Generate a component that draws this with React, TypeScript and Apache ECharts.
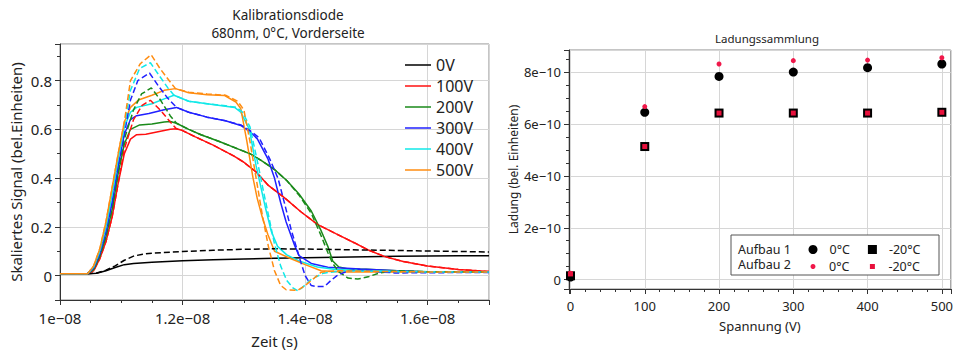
import React, { useEffect, useRef } from 'react';
import * as echarts from 'echarts';

// ---------- Left chart: time traces (time in ns, signal scaled) ----------
const voltageNames = ['0V', '100V', '200V', '300V', '400V', '500V'];
const voltageColors = ['#000000', '#ff1010', '#1a8a1a', '#2020ff', '#10e8e8', '#ff8c10'];

const trace0VSolid = [[10.0,0.008],[10.45,0.008],[10.6,0.01],[10.75,0.02],[10.9,0.033],[11.05,0.045],[11.2,0.05],[11.5,0.055],[12.0,0.061],[12.5,0.065],[13.0,0.068],[13.5,0.071],[14.0,0.073],[14.5,0.075],[15.0,0.077],[15.5,0.079],[16.0,0.08],[16.5,0.081],[17.0,0.082]];
const trace0VDashed = [[10.0,0.008],[10.45,0.008],[10.6,0.011],[10.75,0.022],[10.9,0.04],[11.05,0.063],[11.2,0.08],[11.35,0.088],[11.5,0.092],[12.0,0.099],[12.5,0.104],[13.0,0.108],[13.5,0.11],[14.0,0.109],[14.5,0.107],[15.0,0.105],[15.5,0.103],[16.0,0.101],[16.5,0.099],[17.0,0.097]];

const trace100VSolid = [[10.0,0.008],[10.45,0.008],[10.55,0.02],[10.65,0.07],[10.75,0.14],[10.85,0.24],[10.95,0.38],[11.05,0.5],[11.15,0.56],[11.25,0.578],[11.4,0.58],[11.6,0.59],[11.8,0.6],[11.9,0.602],[12.0,0.595],[12.2,0.57],[12.5,0.535],[12.84,0.49],[13.0,0.465],[13.2,0.425],[13.4,0.37],[13.66,0.32],[13.93,0.262],[14.2,0.21],[14.5,0.172],[14.8,0.135],[15.03,0.105],[15.3,0.078],[15.6,0.058],[16.0,0.039],[16.5,0.025],[17.0,0.017]];
const trace100VDashed = [[10.0,0.008],[10.45,0.008],[10.55,0.02],[10.65,0.07],[10.75,0.14],[10.85,0.24],[10.95,0.38],[11.05,0.52],[11.2,0.64],[11.34,0.698],[11.475,0.719],[11.64,0.678],[11.8,0.63],[11.9,0.602],[12.0,0.595],[12.2,0.57],[12.5,0.535],[12.84,0.49],[13.0,0.465],[13.2,0.425],[13.4,0.37],[13.66,0.32],[13.93,0.262],[14.2,0.21],[14.5,0.172],[14.8,0.135],[15.03,0.105],[15.3,0.078],[15.6,0.058],[16.0,0.039],[16.5,0.025],[17.0,0.017]];

const trace200VSolid = [[10.0,0.008],[10.45,0.008],[10.55,0.025],[10.65,0.08],[10.75,0.16],[10.85,0.27],[10.95,0.42],[11.05,0.54],[11.15,0.6],[11.3,0.618],[11.5,0.622],[11.7,0.63],[11.8,0.632],[11.9,0.625],[12.1,0.6],[12.3,0.578],[12.6,0.55],[12.9,0.52],[13.1,0.5],[13.3,0.47],[13.5,0.435],[13.7,0.39],[13.9,0.335],[14.1,0.265],[14.25,0.19],[14.37,0.12],[14.45,0.06],[14.55,0.035],[14.7,0.027],[15.0,0.026],[15.5,0.02],[16.0,0.016],[17.0,0.015]];
const trace200VDashed = [[10.0,0.008],[10.45,0.008],[10.55,0.025],[10.65,0.08],[10.75,0.16],[10.85,0.27],[10.95,0.42],[11.05,0.56],[11.2,0.68],[11.33,0.745],[11.49,0.77],[11.64,0.72],[11.8,0.655],[11.9,0.625],[12.1,0.6],[12.3,0.578],[12.6,0.55],[12.9,0.52],[13.1,0.5],[13.3,0.47],[13.5,0.435],[13.7,0.39],[13.9,0.33],[14.1,0.255],[14.25,0.17],[14.37,0.095],[14.45,0.05],[14.55,0.015],[14.7,-0.01],[14.86,-0.014],[15.03,-0.005],[15.2,0.01],[15.46,0.02],[16.0,0.016],[17.0,0.015]];

const trace300VSolid = [[10.0,0.008],[10.45,0.008],[10.55,0.03],[10.65,0.09],[10.75,0.18],[10.85,0.3],[10.95,0.45],[11.05,0.58],[11.15,0.64],[11.25,0.656],[11.45,0.665],[11.7,0.68],[11.9,0.69],[12.1,0.67],[12.4,0.65],[12.7,0.635],[12.95,0.616],[13.1,0.59],[13.22,0.561],[13.39,0.48],[13.5,0.4],[13.6,0.3],[13.69,0.22],[13.83,0.123],[13.9,0.082],[14.1,0.05],[14.37,0.034],[14.9,0.027],[15.5,0.02],[16.0,0.015],[17.0,0.014]];
const trace300VDashed = [[10.0,0.008],[10.45,0.008],[10.55,0.03],[10.65,0.09],[10.75,0.18],[10.85,0.3],[10.95,0.45],[11.05,0.58],[11.15,0.72],[11.27,0.8],[11.46,0.831],[11.6,0.78],[11.75,0.73],[11.9,0.69],[12.1,0.67],[12.4,0.65],[12.7,0.635],[12.95,0.618],[13.1,0.595],[13.25,0.565],[13.42,0.48],[13.56,0.397],[13.67,0.29],[13.77,0.19],[13.93,0.055],[14.0,0.0],[14.1,-0.041],[14.2,-0.045],[14.32,-0.044],[14.42,-0.02],[14.52,0.0],[14.7,0.02],[14.86,0.025],[15.1,0.018],[15.46,0.011],[16.0,0.012],[17.0,0.013]];

const trace400VSolid = [[10.0,0.008],[10.45,0.008],[10.55,0.035],[10.65,0.1],[10.75,0.2],[10.85,0.33],[10.95,0.48],[11.05,0.61],[11.15,0.67],[11.25,0.69],[11.5,0.705],[11.7,0.725],[11.86,0.74],[12.1,0.715],[12.4,0.705],[12.7,0.695],[12.85,0.69],[12.95,0.67],[13.09,0.6],[13.2,0.45],[13.28,0.36],[13.36,0.27],[13.45,0.18],[13.55,0.12],[13.7,0.085],[13.9,0.06],[14.2,0.035],[14.5,0.025],[15.0,0.02],[16.0,0.015],[17.0,0.015]];
const trace400VDashed = [[10.0,0.008],[10.45,0.008],[10.55,0.035],[10.65,0.1],[10.75,0.2],[10.85,0.33],[10.95,0.48],[11.05,0.61],[11.15,0.76],[11.3,0.85],[11.475,0.873],[11.62,0.82],[11.76,0.77],[11.86,0.74],[12.1,0.715],[12.4,0.705],[12.7,0.697],[12.88,0.69],[12.98,0.67],[13.1,0.61],[13.22,0.47],[13.3,0.37],[13.4,0.25],[13.5,0.13],[13.6,0.04],[13.7,-0.02],[13.8,-0.05],[13.88,-0.062],[13.95,-0.05],[14.1,-0.015],[14.3,0.01],[14.6,0.02],[15.0,0.018],[16.0,0.015],[17.0,0.015]];

const trace500VSolid = [[10.0,0.008],[10.45,0.008],[10.55,0.04],[10.65,0.11],[10.75,0.22],[10.85,0.36],[10.95,0.5],[11.05,0.63],[11.15,0.69],[11.28,0.72],[11.5,0.74],[11.7,0.76],[11.885,0.767],[12.1,0.75],[12.4,0.742],[12.68,0.739],[12.87,0.712],[12.95,0.685],[13.05,0.55],[13.15,0.4],[13.22,0.315],[13.3,0.24],[13.39,0.17],[13.5,0.1],[13.77,0.069],[14.0,0.045],[14.26,0.02],[14.6,0.015],[15.0,0.015],[16.0,0.015],[17.0,0.015]];
const trace500VDashed = [[10.0,0.008],[10.45,0.008],[10.55,0.04],[10.65,0.11],[10.75,0.22],[10.85,0.36],[10.95,0.5],[11.05,0.63],[11.15,0.8],[11.31,0.869],[11.487,0.906],[11.63,0.85],[11.78,0.8],[11.885,0.767],[12.1,0.752],[12.4,0.745],[12.7,0.74],[12.9,0.715],[13.0,0.68],[13.1,0.55],[13.2,0.4],[13.3,0.25],[13.4,0.12],[13.5,0.02],[13.6,-0.04],[13.69,-0.058],[13.88,-0.06],[14.0,-0.04],[14.15,-0.01],[14.26,0.014],[14.5,0.02],[15.0,0.018],[16.0,0.015],[17.0,0.015]];

const solidTraces = [trace0VSolid, trace100VSolid, trace200VSolid, trace300VSolid, trace400VSolid, trace500VSolid];
const dashedTraces = [trace0VDashed, trace100VDashed, trace200VDashed, trace300VDashed, trace400VDashed, trace500VDashed];

// ---------- Right chart: charge collection ----------
const voltages = [0, 100, 200, 300, 400, 500];
const aufbau1At0C = [0.1e-10, 6.45e-10, 7.83e-10, 8.0e-10, 8.17e-10, 8.31e-10];
const aufbau1AtMinus20C = [0.15e-10, 5.13e-10, 6.42e-10, 6.42e-10, 6.42e-10, 6.45e-10];
const aufbau2At0C = [0.25e-10, 6.67e-10, 8.31e-10, 8.44e-10, 8.46e-10, 8.55e-10];
const aufbau2AtMinus20C = [0.22e-10, 5.13e-10, 6.42e-10, 6.42e-10, 6.42e-10, 6.45e-10];

const FONT = 'Noto Sans';
const TXT = '#222222';

function fmtSci(v: number): string {
  if (Math.abs(v) < 1e-30) return '0';
  const e = Math.floor(Math.log10(Math.abs(v)) + 1e-9);
  const m = Math.round((v / Math.pow(10, e)) * 1000) / 1000;
  const es = e < 0 ? '\u2212' + String(-e).padStart(2, '0') : '+' + String(e).padStart(2, '0');
  return `${m}e${es}`;
}

function buildOption(): any {
  const lineSeries: any[] = [];
  solidTraces.forEach((tr, i) => {
    lineSeries.push({
      type: 'line', name: voltageNames[i], xAxisIndex: 0, yAxisIndex: 0,
      data: tr.map(([t, y]) => [t * 1e-9, y]),
      symbol: 'none', showSymbol: false, clip: true,
      lineStyle: { color: voltageColors[i], width: 1.5 },
      itemStyle: { color: voltageColors[i] },
    });
  });
  dashedTraces.forEach((tr, i) => {
    lineSeries.push({
      type: 'line', name: voltageNames[i], xAxisIndex: 0, yAxisIndex: 0,
      data: tr.map(([t, y]) => [t * 1e-9, y]),
      symbol: 'none', showSymbol: false, clip: true,
      lineStyle: { color: voltageColors[i], width: 1.5, type: [6, 3] },
      itemStyle: { color: voltageColors[i] },
    });
  });

  const scatter = (name: string, vals: number[], symbol: string, size: number, color: string, z: number) => ({
    type: 'scatter', name, xAxisIndex: 1, yAxisIndex: 1,
    data: voltages.map((v, i) => [v, vals[i]]),
    symbol, symbolSize: size, itemStyle: { color, opacity: 1 }, z,
  });

  const axisCommon = {
    axisLine: { show: true, onZero: false, lineStyle: { color: '#333333', width: 1 } },
    axisTick: { show: true, inside: false, length: 5, lineStyle: { color: '#333333' } },
    minorTick: { show: true, length: 3, lineStyle: { color: '#333333' } },
    splitLine: { show: true, lineStyle: { color: '#d6d6d6', width: 1 } },
  };

  return {
    animation: false,
    textStyle: { fontFamily: FONT },
    grid: [
      { left: 60, top: 44, width: 429, height: 259, show: true, borderColor: '#8a8a8a', borderWidth: 1, containLabel: false },
      { left: 569, top: 50, width: 385, height: 239, show: true, borderColor: '#8a8a8a', borderWidth: 1, containLabel: false },
    ],
    xAxis: [
      {
        ...axisCommon, type: 'value', gridIndex: 0, min: 1e-8, max: 1.7e-8, interval: 2e-9,
        minorTick: { ...axisCommon.minorTick, splitNumber: 4 },
        name: 'Zeit (s)', nameLocation: 'middle', nameGap: 33,
        nameTextStyle: { fontSize: 15, color: TXT, fontFamily: FONT },
        axisLabel: { fontSize: 15, color: TXT, margin: 10, formatter: fmtSci, showMaxLabel: false, fontFamily: FONT },
      },
      {
        ...axisCommon, type: 'value', gridIndex: 1, min: -2, max: 512, splitNumber: 5,
        minorTick: { ...axisCommon.minorTick, splitNumber: 5 },
        name: 'Spannung (V)', nameLocation: 'middle', nameGap: 30,
        nameTextStyle: { fontSize: 13, color: TXT, fontFamily: FONT },
        axisLabel: { fontSize: 13, color: TXT, margin: 10, showMinLabel: false, showMaxLabel: false, fontFamily: FONT },
      },
    ],
    yAxis: [
      {
        ...axisCommon, type: 'value', gridIndex: 0, min: -0.1, max: 0.95, splitNumber: 5,
        minorTick: { ...axisCommon.minorTick, splitNumber: 2 },
        name: 'Skaliertes Signal (bel.Einheiten)', nameLocation: 'middle', nameGap: 37,
        nameTextStyle: { fontSize: 15, color: TXT, fontFamily: FONT },
        axisLabel: { fontSize: 15, color: TXT, margin: 8, showMinLabel: false, showMaxLabel: false, fontFamily: FONT },
      },
      {
        ...axisCommon, type: 'value', gridIndex: 1, min: -0.36e-10, max: 8.85e-10, splitNumber: 5,
        minorTick: { ...axisCommon.minorTick, splitNumber: 4 },
        name: 'Ladung (bel. Einheiten)', nameLocation: 'middle', nameGap: 50,
        nameTextStyle: { fontSize: 12, color: TXT, fontFamily: FONT },
        axisLabel: { fontSize: 13, color: TXT, margin: 8, formatter: fmtSci, showMinLabel: false, showMaxLabel: false, fontFamily: FONT },
      },
    ],
    legend: [
      {
        data: voltageNames.map((n) => ({ name: n, icon: 'rect' })), orient: 'vertical', left: 405, top: 57, padding: 0,
        itemWidth: 26, itemHeight: 1.5, itemGap: 5,
        textStyle: { fontSize: 16, color: TXT, fontFamily: FONT, lineHeight: 16 },
      },
      {
        data: ['Aufbau 1 0°C', 'Aufbau 1 -20°C'], orient: 'horizontal', left: 808.5, top: 243, padding: 0,
        itemWidth: 9, itemHeight: 9, itemGap: 18,
        formatter: (n: string) => n.replace('Aufbau 1 ', ''),
        textStyle: { fontSize: 12.5, color: TXT, fontFamily: FONT, padding: [0, 0, 0, 7] },
        z: 6,
      },
      {
        data: ['Aufbau 2 0°C', 'Aufbau 2 -20°C'], orient: 'horizontal', left: 810.5, top: 260, padding: 0,
        itemWidth: 5, itemHeight: 5, itemGap: 20.5,
        formatter: (n: string) => n.replace('Aufbau 2 ', ''),
        textStyle: { fontSize: 12.5, color: TXT, fontFamily: FONT, padding: [0, 0, 0, 8.5] },
        z: 6,
      },
    ],
    graphic: [
      { type: 'text', x: 288, y: 15, z: 5, style: { text: 'Kalibrationsdiode', fontSize: 13.5, fontFamily: FONT, fill: TXT, align: 'center', verticalAlign: 'middle' } },
      { type: 'text', x: 288, y: 33, z: 5, style: { text: '680nm, 0°C, Vorderseite', fontSize: 13.5, fontFamily: FONT, fill: TXT, align: 'center', verticalAlign: 'middle' } },
      { type: 'text', x: 767, y: 38, z: 5, style: { text: 'Ladungssammlung', fontSize: 11.5, fontFamily: FONT, fill: TXT, align: 'center', verticalAlign: 'middle' } },
      { type: 'rect', z: 3, shape: { x: 731, y: 235, width: 208, height: 40 }, style: { fill: '#ffffff', stroke: '#555555', lineWidth: 1 } },
      { type: 'text', x: 738, y: 249, z: 5, style: { text: 'Aufbau 1', fontSize: 12.5, fontFamily: FONT, fill: TXT, align: 'left', verticalAlign: 'middle' } },
      { type: 'text', x: 738, y: 264.5, z: 5, style: { text: 'Aufbau 2', fontSize: 12.5, fontFamily: FONT, fill: TXT, align: 'left', verticalAlign: 'middle' } },
    ],
    series: [
      ...lineSeries,
      scatter('Aufbau 1 0°C', aufbau1At0C, 'circle', 9, '#000000', 3),
      scatter('Aufbau 1 -20°C', aufbau1AtMinus20C, 'rect', 9, '#000000', 3),
      scatter('Aufbau 2 0°C', aufbau2At0C, 'circle', 5, '#f0184a', 4),
      scatter('Aufbau 2 -20°C', aufbau2AtMinus20C, 'rect', 5, '#e8103c', 4),
    ],
  };
}

export default function App() {
  const ref = useRef<HTMLDivElement>(null);
  useEffect(() => {
    if (!ref.current) return;
    const chart = echarts.init(ref.current, null, { renderer: 'svg' });
    chart.setOption(buildOption());
    return () => chart.dispose();
  }, []);
  return (
    <div
      ref={ref}
      style={{ position: 'fixed', left: 0, top: 0, width: 956, height: 353, background: '#ffffff' }}
    />
  );
}
